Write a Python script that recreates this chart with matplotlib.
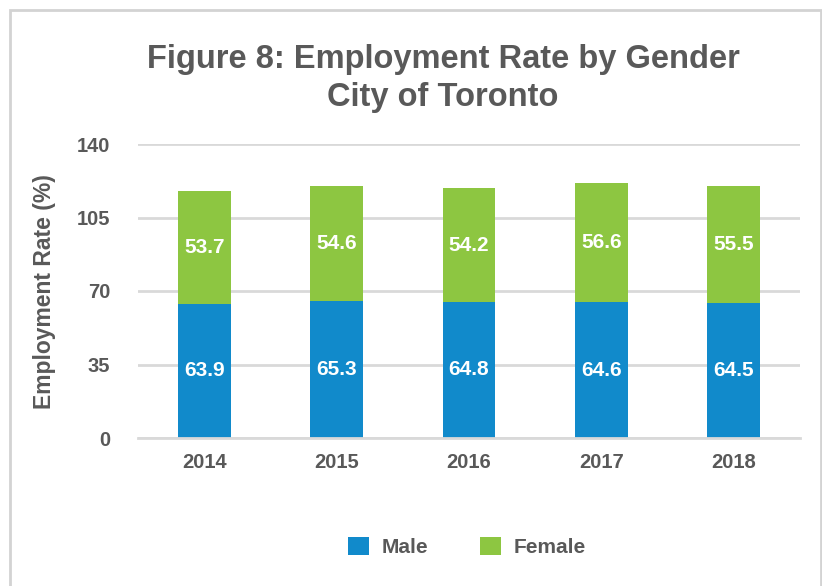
import matplotlib.pyplot as plt
import matplotlib.patches as mpatches
import numpy as np

plt.rcParams['font.family'] = ['Liberation Sans', 'DejaVu Sans']
plt.rcParams['font.weight'] = 'bold'

years = ['2014', '2015', '2016', '2017', '2018']
male = [63.9, 65.3, 64.8, 64.6, 64.5]
female = [53.7, 54.6, 54.2, 56.6, 55.5]
yticks = [0, 35, 70, 105, 140]

grey = '#595959'
blue = '#118acb'
green = '#8dc641'
gridc = '#d9d9d9'

fig = plt.figure(figsize=(8.22, 5.86), dpi=100)
ax = fig.add_axes([138 / 822, 1 - 438 / 586, 662 / 822, 294 / 586])

x = np.arange(len(years))
b1 = ax.bar(x, male, width=0.4, color=blue, label='Male', zorder=3)
b2 = ax.bar(x, female, width=0.4, bottom=male, color=green, label='Female', zorder=3)

ax.bar_label(b1, labels=[f'{v:.1f}' for v in male], label_type='center',
             color='white', fontsize=15, fontweight='bold')
ax.bar_label(b2, labels=[f'{v:.1f}' for v in female], label_type='center',
             color='white', fontsize=15, fontweight='bold')

ax.set_xlim(-0.5, len(years) - 0.5)
ax.set_ylim(0, 140)
ax.set_yticks(yticks)
ax.set_xticks(x)
ax.set_xticklabels(years)
ax.yaxis.grid(True, color=gridc, linewidth=2, zorder=0)
ax.tick_params(axis='y', length=0, pad=20, labelsize=14.5, labelcolor=grey)
ax.tick_params(axis='x', length=0, pad=11, labelsize=14.5, labelcolor=grey)
for s in ['top', 'right', 'left']:
    ax.spines[s].set_visible(False)
ax.spines['bottom'].set_color(gridc)
ax.spines['bottom'].set_linewidth(2)
ax.spines['bottom'].set_zorder(4)

fig.text(45 / 822, 1 - 292 / 586, 'Employment Rate (%)', rotation=90,
         ha='center', va='center', fontsize=16.5, color=grey, fontweight='bold')

# two-line title, centred a bit right of the figure middle
fig.text(443 / 822, 1 - 44 / 586, 'Figure 8: Employment Rate by Gender\nCity of Toronto',
         ha='center', va='top', fontsize=23.5, color=grey, fontweight='bold',
         linespacing=1.3)

fig.legend(loc='center', bbox_to_anchor=(467 / 822, 1 - 547 / 586), ncol=2,
           frameon=False, fontsize=15, handlelength=1.0, handleheight=1.0,
           handletextpad=0.6, columnspacing=2.5, labelcolor=grey)

# outer chart frame
fig.patches.append(mpatches.Rectangle((10 / 822, -0.05), 811 / 822, 1.05 - 10 / 586,
                                      transform=fig.transFigure, fill=False,
                                      edgecolor='#d3d3d3', linewidth=2))

fig.savefig('out.png', dpi=100)
